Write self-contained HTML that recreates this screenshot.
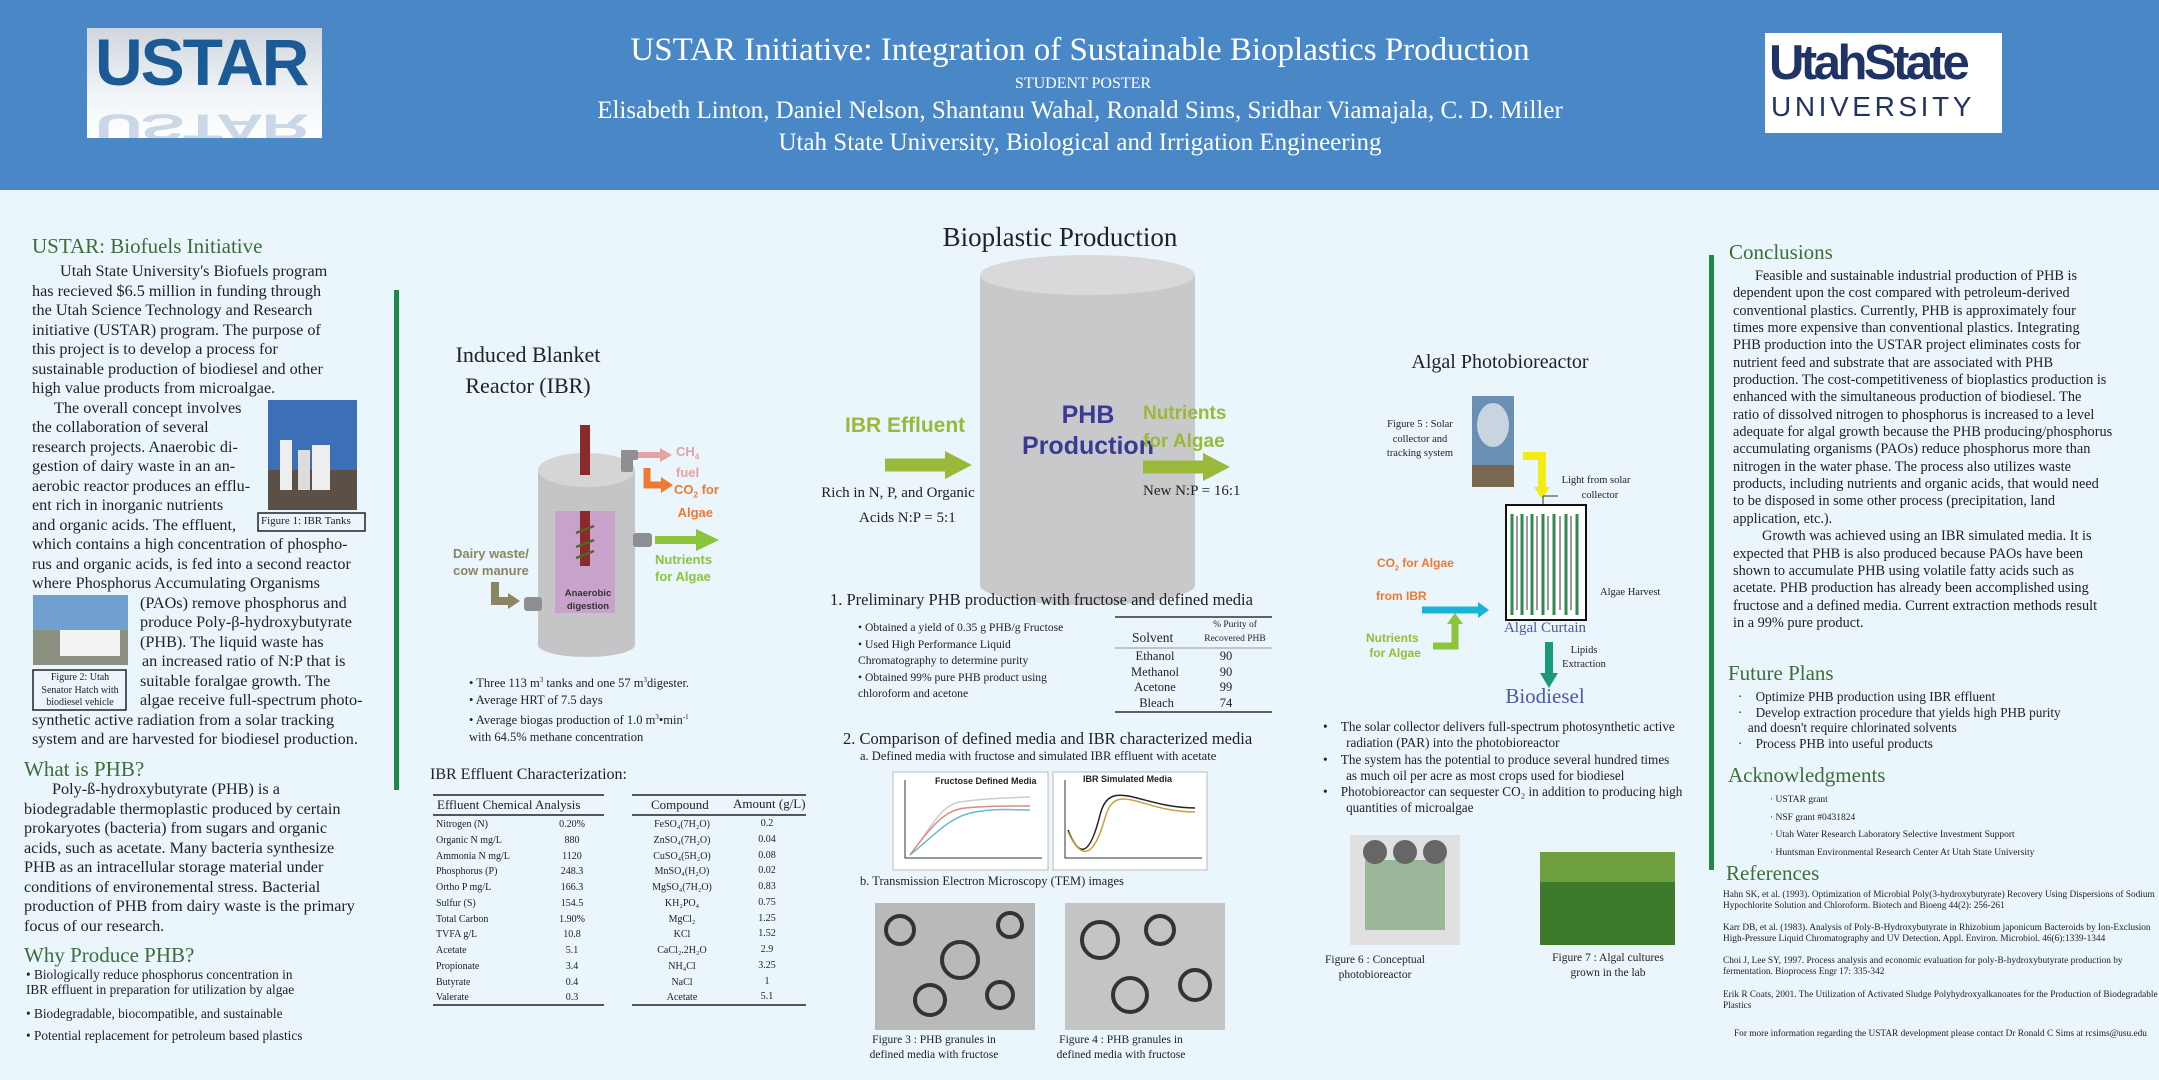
<!DOCTYPE html>
<html><head><meta charset="utf-8">
<style>
*{margin:0;padding:0;box-sizing:border-box}
body{width:2159px;height:1080px;background:#eaf5fc;position:relative;overflow:hidden;font-family:"Liberation Serif",serif;color:#222}
.a{position:absolute;white-space:nowrap}
.h{color:#3d6e3a;font-size:21px}
.L{font-size:16.2px;line-height:19.5px}
.R{font-size:14.3px;line-height:17.35px}
.sans{font-family:"Liberation Sans",sans-serif;font-weight:bold}
.c{transform:translateX(-50%);text-align:center}
</style></head><body>
<!-- header -->
<div class="a" style="left:0;top:0;width:2159px;height:190px;background:#4a87c6"></div>
<div class="a" style="left:87px;top:28px;width:235px;height:110px;background:linear-gradient(#d0d6dd,#eef2f6 55%,#fff);overflow:hidden">
<div class="a sans" style="left:8px;top:-4px;font-size:66px;color:#1c5a96;letter-spacing:-2px">USTAR</div>
<div class="a sans" style="left:8px;top:120px;font-size:66px;color:#c9d7e6;letter-spacing:-2px;transform:scaleY(-0.55);transform-origin:top">USTAR</div>
</div>
<div class="a" style="left:1765px;top:33px;width:237px;height:100px;background:#fff"></div>
<div class="a sans" style="left:1769px;top:37px;font-size:49px;color:#1f3464;letter-spacing:-3.5px;line-height:52px">UtahState</div>
<div class="a" style="left:1771px;top:91px;font-family:'Liberation Sans',sans-serif;font-size:28px;color:#1f3464;letter-spacing:3.6px">UNIVERSITY</div>
<div class="a c" style="left:1080px;top:32px;font-size:33px;color:#fff">USTAR Initiative: Integration of Sustainable Bioplastics Production</div>
<div class="a c" style="left:1083px;top:75px;font-size:16px;color:#fff">STUDENT POSTER</div>
<div class="a c" style="left:1080px;top:97px;font-size:25px;color:#fff">Elisabeth Linton, Daniel Nelson, Shantanu Wahal, Ronald Sims, Sridhar Viamajala, C. D. Miller</div>
<div class="a c" style="left:1080px;top:129px;font-size:25px;color:#fff">Utah State University, Biological and Irrigation Engineering</div>

<svg class="a" style="left:0;top:0" width="2159" height="1080">
<rect x="394" y="290" width="5" height="500" fill="#1d8a4a"/>
<rect x="1709" y="255" width="5" height="615" fill="#1d8a4a"/>
<rect x="980" y="275" width="215" height="310" fill="#c9c9cc"/>
<ellipse cx="1087.5" cy="585" rx="107.5" ry="20" fill="#c9c9cc"/>
<ellipse cx="1087.5" cy="275" rx="107.5" ry="20" fill="#d9d9dc"/>
<path d="M885,465H948" stroke="#9ab93b" stroke-width="13"/><path d="M945,451L972,465L945,479z" fill="#9ab93b"/>
<path d="M1143,467H1206" stroke="#9ab93b" stroke-width="13"/><path d="M1203,453L1230,467L1203,481z" fill="#9ab93b"/>
<rect x="538" y="470" width="97" height="175" fill="#c5c5c8"/>
<ellipse cx="586.5" cy="645" rx="48.5" ry="12" fill="#c5c5c8"/>
<ellipse cx="586.5" cy="470" rx="48.5" ry="17" fill="#d5d5d8"/>
<rect x="555" y="511" width="60" height="102" fill="#c9a2cc"/>
<rect x="580" y="425" width="10" height="50" fill="#8b2a2a"/>
<rect x="580" y="511" width="10" height="55" fill="#8b2a2a"/>
<path d="M576,533l18,-7M576,547l18,-7M576,558l18,-7" stroke="#4a6a2a" stroke-width="2.5"/>
<rect x="621" y="450" width="12" height="22" rx="2" fill="#8e8f93"/><rect x="621" y="450" width="17" height="10" rx="2" fill="#8e8f93"/>
<path d="M638,455H662" stroke="#e4a3a3" stroke-width="6"/><path d="M660,448L672,455L660,462z" fill="#e4a3a3"/>
<path d="M647,468V485H663" stroke="#ec7a34" stroke-width="7" fill="none"/><path d="M661,477L673,485L661,493z" fill="#ec7a34"/>
<rect x="633" y="533" width="19" height="14" rx="3" fill="#8e8f93"/>
<path d="M655,540H698" stroke="#8cc43c" stroke-width="8"/><path d="M696,529L719,540L696,551z" fill="#8cc43c"/>
<rect x="524" y="597" width="18" height="14" rx="3" fill="#8e8f93"/>
<path d="M495,582V601H510" stroke="#8a8662" stroke-width="8" fill="none"/><path d="M508,593L520,601L508,609z" fill="#8a8662"/>
<path d="M433,795H604M433,815H604M433,1005H604" stroke="#222" stroke-width="1.5"/>
<path d="M632,795H806M632,815H806M632,1005H806" stroke="#222" stroke-width="1.5"/>
<path d="M1115,617H1272M1115,712H1272" stroke="#333" stroke-width="1.5"/><path d="M1115,648H1272" stroke="#777" stroke-width="0.8"/>
<rect x="893" y="772" width="155" height="98" fill="#fff" stroke="#bbb"/>
<path d="M905,780V858H1042" stroke="#333" fill="none"/>
<path d="M910,855C930,830 940,805 960,802S1000,798 1030,797" stroke="#ccc" fill="none" stroke-width="1.5"/>
<path d="M910,855C932,825 945,810 965,808S1000,806 1030,806" stroke="#d88" fill="none" stroke-width="1.5"/>
<path d="M910,855C935,835 950,816 975,812S1010,810 1030,810" stroke="#6bc" fill="none" stroke-width="1.5"/>
<rect x="1053" y="772" width="154" height="98" fill="#fff" stroke="#bbb"/>
<path d="M1065,780V858H1202" stroke="#333" fill="none"/>
<path d="M1068,830C1080,860 1090,855 1100,815S1140,808 1195,808" stroke="#222" fill="none" stroke-width="1.5"/>
<path d="M1068,832C1082,862 1094,857 1105,818S1140,812 1195,812" stroke="#c9a23a" fill="none" stroke-width="1.5"/>
<rect x="875" y="903" width="160" height="127" fill="#b9b9b9"/>
<g fill="none" stroke="#333" stroke-width="4"><circle cx="900" cy="930" r="14"/><circle cx="960" cy="960" r="18"/><circle cx="1010" cy="925" r="12"/><circle cx="930" cy="1000" r="15"/><circle cx="1000" cy="995" r="13"/></g>
<rect x="1065" y="903" width="160" height="127" fill="#c4c4c4"/>
<g fill="none" stroke="#333" stroke-width="4"><circle cx="1100" cy="940" r="18"/><circle cx="1160" cy="930" r="14"/><circle cx="1130" cy="995" r="17"/><circle cx="1195" cy="985" r="15"/></g>
<rect x="268" y="400" width="89" height="110" fill="#3d6fb8"/><rect x="268" y="470" width="89" height="40" fill="#5b5048"/>
<rect x="280" y="440" width="12" height="50" fill="#eee"/><rect x="298" y="450" width="12" height="40" fill="#ddd"/><rect x="312" y="445" width="18" height="45" fill="#eee"/>
<rect x="258" y="513" width="107" height="18" fill="none" stroke="#222" stroke-width="1.5"/>
<rect x="33" y="595" width="95" height="70" fill="#6fa0d0"/><rect x="33" y="630" width="95" height="35" fill="#8a8f80"/><rect x="60" y="630" width="60" height="26" fill="#f3f3f3"/>
<rect x="33" y="670" width="93" height="40" fill="none" stroke="#222" stroke-width="1.5"/>
<rect x="1472" y="396" width="42" height="91" fill="#6a8fb5"/><ellipse cx="1493" cy="425" rx="16" ry="22" fill="#c8d4e0"/><rect x="1472" y="465" width="42" height="22" fill="#7b6650"/>
<path d="M1523,456H1542V490" stroke="#f2ee14" stroke-width="8" fill="none"/><path d="M1534,487L1542,499L1550,487z" fill="#f2ee14"/>
<path d="M1543,496V507M1543,496H1558" stroke="#333" fill="none"/>
<rect x="1506" y="505" width="80" height="115" fill="#fff" stroke="#111" stroke-width="2"/>
<g stroke="#2f8a4f" stroke-width="3"><path d="M1512,514V615M1522,514V615M1532,514V615M1543,514V615M1554,514V615M1566,514V615M1577,514V615"/></g>
<g stroke="#999" stroke-width="2"><path d="M1517,516V610M1527,516V610M1537,516V610M1548,516V610M1560,516V610M1571,516V610"/></g>
<path d="M1422,610H1480" stroke="#18b3d8" stroke-width="7"/><path d="M1478,602L1489,610L1478,618z" fill="#18b3d8"/>
<path d="M1433,646H1455V622" stroke="#8cc43c" stroke-width="7" fill="none"/><path d="M1447,624L1455,613L1463,624z" fill="#8cc43c"/>
<path d="M1549,642V675" stroke="#1a9a7a" stroke-width="8"/><path d="M1540,673L1549,688L1558,673z" fill="#1a9a7a"/>
<rect x="1350" y="835" width="110" height="110" fill="#e0e0e0"/><rect x="1365" y="860" width="80" height="70" fill="#9ab79a"/><circle cx="1375" cy="852" r="12" fill="#666"/><circle cx="1405" cy="852" r="12" fill="#666"/><circle cx="1435" cy="852" r="12" fill="#666"/>
<rect x="1540" y="852" width="135" height="93" fill="#3d7a2c"/><rect x="1540" y="852" width="135" height="30" fill="#6fa040"/>
</svg>

<div class="a h" style="left:32px;top:234px">USTAR: Biofuels Initiative</div>
<div class="a L" style="left:32px;top:262px">
<span style="padding-left:28px">Utah State University's Biofuels program</span><br>has recieved $6.5 million in funding through<br>the Utah Science Technology and Research<br>initiative (USTAR) program.  The purpose of<br>this project is to develop a process for<br>sustainable production of biodiesel and other<br>high value products from microalgae.<br>
<span style="padding-left:22px">The overall concept involves</span><br>the collaboration of several<br>research projects. Anaerobic di-<br>gestion of dairy waste in an an-<br>aerobic reactor produces an efflu-<br>ent rich in inorganic nutrients<br>and organic acids.  The effluent,<br>which contains a high concentration of phospho-<br>rus and organic acids, is fed into a second reactor<br>where Phosphorus Accumulating Organisms<br>
<span style="padding-left:108px">(PAOs) remove phosphorus and</span><br><span style="padding-left:108px">produce Poly-β-hydroxybutyrate</span><br><span style="padding-left:108px">(PHB).  The liquid waste has</span><br><span style="padding-left:110px">an increased ratio of N:P that is</span><br><span style="padding-left:108px">suitable foralgae growth.  The</span><br><span style="padding-left:108px">algae receive full-spectrum photo-</span><br>synthetic active radiation from a solar tracking<br>system and are harvested for biodiesel production.</div>
<div class="a" style="left:261px;top:515px;font-size:11px">Figure 1: IBR Tanks</div>
<div class="a c" style="left:80px;top:672px;font-size:10px;line-height:12.5px">Figure 2: Utah<br>Senator Hatch with<br>biodiesel vehicle</div>
<div class="a h" style="left:24px;top:757px">What is PHB?</div>
<div class="a L" style="left:24px;top:780px"><span style="padding-left:28px">Poly-ß-hydroxybutyrate (PHB) is a</span><br>biodegradable thermoplastic produced by certain<br>prokaryotes (bacteria) from sugars and organic<br>acids, such as acetate.  Many bacteria synthesize<br>PHB as an intracellular storage material under<br>conditions of environemental stress.  Bacterial<br>production of PHB from dairy waste is the primary<br>focus of our research.</div>
<div class="a h" style="left:24px;top:943px">Why Produce PHB?</div>
<div class="a" style="left:26px;top:967px;font-size:13.3px;line-height:15px">• Biologically reduce phosphorus concentration in<br>IBR effluent in preparation for utilization by algae</div>
<div class="a" style="left:26px;top:1006px;font-size:13.3px">• Biodegradable, biocompatible, and sustainable</div>
<div class="a" style="left:26px;top:1028px;font-size:13.3px">• Potential replacement for petroleum based plastics</div>

<div class="a c" style="left:528px;top:339px;font-size:22px;line-height:31px">Induced Blanket<br>Reactor (IBR)</div>
<div class="a sans" style="left:676px;top:444px;font-size:13px;color:#e4a3a3;line-height:15px">CH<sub style="font-size:8px">4</sub><br>fuel</div>
<div class="a sans" style="left:674px;top:481px;font-size:13px;color:#ec7a34;line-height:17px">CO<sub style="font-size:8px">2</sub> for<br>&nbsp;Algae</div>
<div class="a sans" style="left:655px;top:551px;font-size:13px;color:#8cc43c;line-height:17px">Nutrients<br>for Algae</div>
<div class="a sans" style="left:453px;top:545px;font-size:13px;color:#8a8662;line-height:17px">Dairy waste/<br>cow manure</div>
<div class="a sans c" style="left:588px;top:587px;font-size:9.5px;font-weight:bold;color:#333;line-height:13px">Anaerobic<br>digestion</div>
<div class="a" style="left:469px;top:672px;font-size:12.5px;line-height:17px">• Three 113 m<sup style="font-size:7px">3</sup> tanks and one 57 m<sup style="font-size:7px">3</sup>digester.<br>• Average HRT of 7.5 days<br>• Average biogas production of 1.0 m<sup style="font-size:7px">3</sup>•min<sup style="font-size:7px">-1</sup><br>with 64.5% methane concentration</div>

<div class="a" style="left:430px;top:766px;font-size:16px">IBR Effluent Characterization:</div>
<div class="a" style="left:437px;top:797px;font-size:13px">Effluent Chemical Analysis</div>
<div class="a" style="left:436px;top:817px;font-size:10px;line-height:15.75px">Nitrogen (N)<br>Organic N mg/L<br>Ammonia N mg/L<br>Phosphorus (P)<br>Ortho P mg/L<br>Sulfur (S)<br>Total Carbon<br>TVFA g/L<br>Acetate<br>Propionate<br>Butyrate<br>Valerate</div>
<div class="a c" style="left:572px;top:817px;font-size:10px;line-height:15.75px">0.20%<br>880<br>1120<br>248.3<br>166.3<br>154.5<br>1.90%<br>10.8<br>5.1<br>3.4<br>0.4<br>0.3</div>
<div class="a" style="left:651px;top:797px;font-size:13px">Compound</div>
<div class="a" style="left:733px;top:796px;font-size:13px">Amount (g/L)</div>
<div class="a c" style="left:682px;top:817px;font-size:10px;line-height:15.75px">FeSO₄(7H₂O)<br>ZnSO₄(7H₂O)<br>CuSO₄(5H₂O)<br>MnSO₄(H₂O)<br>MgSO₄(7H₂O)<br>KH₂PO₄<br>MgCl₂<br>KCl<br>CaCl₂.2H₂O<br>NH₄Cl<br>NaCl<br>Acetate</div>
<div class="a c" style="left:767px;top:816px;font-size:10px;line-height:15.75px">0.2<br>0.04<br>0.08<br>0.02<br>0.83<br>0.75<br>1.25<br>1.52<br>2.9<br>3.25<br>1<br>5.1</div>

<div class="a c" style="left:1060px;top:222px;font-size:27px">Bioplastic Production</div>
<div class="a sans c" style="left:1088px;top:400px;font-size:25px;color:#3a3a96;line-height:31px">PHB<br>Production</div>
<div class="a sans" style="left:845px;top:414px;font-size:21px;color:#9ab93b">IBR Effluent</div>
<div class="a c" style="left:898px;top:481px;font-size:15px;line-height:25px">Rich in N, P, and Organic<br>&nbsp;&nbsp;&nbsp;&nbsp;&nbsp;Acids N:P = 5:1</div>
<div class="a sans" style="left:1143px;top:400px;font-size:19px;color:#9ab93b;line-height:28px">Nutrients<br>for Algae</div>
<div class="a" style="left:1143px;top:483px;font-size:15px">New N:P = 16:1</div>
<div class="a" style="left:830px;top:590px;font-size:16.5px">1. Preliminary PHB production with fructose and defined media</div>
<div class="a" style="left:858px;top:620px;font-size:11.6px;line-height:16.5px">• Obtained a yield of 0.35 g PHB/g Fructose<br>• Used High Performance Liquid<br>Chromatography to determine purity<br>• Obtained 99% pure PHB product using<br>chloroform and acetone</div>
<div class="a c" style="left:1235px;top:618px;font-size:9.5px;line-height:14px">% Purity of<br>Recovered PHB</div>
<div class="a" style="left:1132px;top:630px;font-size:13.5px">Solvent</div>
<div class="a c" style="left:1155px;top:649px;font-size:12.5px;line-height:15.5px">Ethanol<br>Methanol<br>Acetone<br>&nbsp;Bleach</div>
<div class="a c" style="left:1226px;top:649px;font-size:12.5px;line-height:15.5px">90<br>90<br>99<br>74</div>
<div class="a" style="left:843px;top:729px;font-size:16.5px">2. Comparison of defined media and IBR characterized media</div>
<div class="a" style="left:860px;top:749px;font-size:12.5px">a. Defined media with fructose and simulated IBR effluent with acetate</div>
<div class="a sans" style="left:935px;top:776px;font-size:9px">Fructose Defined Media</div>
<div class="a sans" style="left:1083px;top:774px;font-size:9px">IBR Simulated Media</div>
<div class="a" style="left:860px;top:874px;font-size:12.5px">b. Transmission Electron Microscopy (TEM) images</div>
<div class="a c" style="left:934px;top:1033px;font-size:11.5px;line-height:14.5px">Figure 3 : PHB granules in<br>defined media with fructose</div>
<div class="a c" style="left:1121px;top:1033px;font-size:11.5px;line-height:14.5px">Figure 4 : PHB granules in<br>defined media with fructose</div>

<div class="a c" style="left:1500px;top:351px;font-size:20px">Algal Photobioreactor</div>
<div class="a c" style="left:1420px;top:418px;font-size:10.5px;line-height:14.5px">Figure 5 : Solar<br>collector and<br>tracking system</div>
<div class="a c" style="left:1596px;top:474px;font-size:10.5px;line-height:14.5px">Light from solar<br>&nbsp;&nbsp;&nbsp;collector</div>
<div class="a" style="left:1600px;top:587px;font-size:10.5px">Algae Harvest</div>
<div class="a c" style="left:1584px;top:644px;font-size:10.5px;line-height:14px">Lipids<br>Extraction</div>
<div class="a c" style="left:1545px;top:620px;font-size:15px;color:#4a5aa8">Algal Curtain</div>
<div class="a c" style="left:1545px;top:684px;font-size:21px;color:#4a5aa8">Biodiesel</div>
<div class="a sans" style="left:1377px;top:556px;font-size:12px;color:#ec7a34">CO<sub style="font-size:7px">2</sub> for Algae</div>
<div class="a sans" style="left:1376px;top:589px;font-size:12px;color:#ec7a34">from IBR</div>
<div class="a sans" style="left:1366px;top:631px;font-size:12px;color:#9ab93b;line-height:15px">Nutrients<br>&nbsp;for Algae</div>
<div class="a" style="left:1323px;top:719px;font-size:13.2px;line-height:16.3px">•&nbsp;&nbsp;&nbsp;&nbsp;The solar collector delivers full-spectrum photosynthetic active<br>&nbsp;&nbsp;&nbsp;&nbsp;&nbsp;&nbsp;&nbsp;radiation (PAR) into the photobioreactor<br>•&nbsp;&nbsp;&nbsp;&nbsp;The system has the potential to produce several hundred times<br>&nbsp;&nbsp;&nbsp;&nbsp;&nbsp;&nbsp;&nbsp;as much oil per acre as most crops used for biodiesel<br>•&nbsp;&nbsp;&nbsp;&nbsp;Photobioreactor can sequester CO₂ in addition to producing high<br>&nbsp;&nbsp;&nbsp;&nbsp;&nbsp;&nbsp;&nbsp;quantities of microalgae</div>
<div class="a c" style="left:1375px;top:953px;font-size:11.5px;line-height:15px">Figure 6 : Conceptual<br>photobioreactor</div>
<div class="a c" style="left:1608px;top:951px;font-size:11.5px;line-height:15px">Figure 7 : Algal cultures<br>grown in the lab</div>

<div class="a h" style="left:1729px;top:240px">Conclusions</div>
<div class="a R" style="left:1733px;top:268px"><span style="padding-left:22px">Feasible and sustainable industrial production of PHB is</span><br>dependent upon the cost compared with petroleum-derived<br>conventional plastics.  Currently, PHB is approximately four<br>times more expensive than conventional plastics.  Integrating<br>PHB production into the USTAR project eliminates costs for<br>nutrient feed and substrate that are associated with PHB<br>production. The cost-competitiveness of bioplastics production is<br>enhanced with the simultaneous production of biodiesel.  The<br>ratio of dissolved nitrogen to phosphorus is increased to a level<br>adequate for algal growth because the PHB producing/phosphorus<br>accumulating organisms (PAOs) reduce phosphorus more than<br>nitrogen in the water phase.  The process also utilizes waste<br>products, including nutrients and organic acids, that would need<br>to be disposed in some other process (precipitation, land<br>application, etc.).<br><span style="padding-left:29px">Growth was achieved using an IBR simulated media. It is</span><br>expected that PHB is also produced because PAOs have been<br>shown to accumulate PHB using volatile fatty acids such as<br>acetate. PHB production has already been accomplished using<br>fructose and a defined media.  Current extraction methods result<br>in a 99% pure product.</div>
<div class="a h" style="left:1728px;top:661px">Future Plans</div>
<div class="a" style="left:1738px;top:689px;font-size:13.2px;line-height:15.6px">·&nbsp;&nbsp;&nbsp;&nbsp;Optimize PHB production using IBR effluent<br>·&nbsp;&nbsp;&nbsp;&nbsp;Develop extraction procedure that yields high PHB purity<br>&nbsp;&nbsp;&nbsp;and doesn't require chlorinated solvents<br>·&nbsp;&nbsp;&nbsp;&nbsp;Process PHB into useful products</div>
<div class="a h" style="left:1728px;top:763px">Acknowledgments</div>
<div class="a" style="left:1770px;top:792px;font-size:9.5px;line-height:17.6px">· USTAR grant<br>· NSF grant #0431824<br>· Utah Water Research Laboratory Selective Investment Support<br>· Huntsman Environmental Research Center At Utah State University</div>
<div class="a h" style="left:1726px;top:861px">References</div>
<div class="a" style="left:1723px;top:890px;font-size:9.3px;line-height:10.5px">Hahn SK, et al. (1993). Optimization of Microbial Poly(3-hydroxybutyrate) Recovery  Using Dispersions of Sodium<br>Hypochlorite Solution and Chloroform. Biotech and Bioeng 44(2): 256-261</div>
<div class="a" style="left:1723px;top:923px;font-size:9.3px;line-height:10.5px">Karr DB, et al. (1983). Analysis of Poly-B-Hydroxybutyrate in Rhizobium japonicum Bacteroids by Ion-Exclusion<br>High-Pressure Liquid Chromatography and UV Detection. Appl. Environ. Microbiol. 46(6):1339-1344</div>
<div class="a" style="left:1723px;top:956px;font-size:9.3px;line-height:10.5px">Choi J, Lee SY, 1997. Process analysis and economic evaluation for poly-B-hydroxybutyrate production by<br>fermentation. Bioprocess Engr 17: 335-342</div>
<div class="a" style="left:1723px;top:990px;font-size:9.3px;line-height:10.5px">Erik R Coats, 2001. The Utilization of Activated Sludge Polyhydroxyalkanoates for the Production of Biodegradable<br>Plastics</div>
<div class="a" style="left:1734px;top:1029px;font-size:9.3px">For more information regarding the USTAR development please contact Dr Ronald C Sims at rcsims@usu.edu</div>
</body></html>
